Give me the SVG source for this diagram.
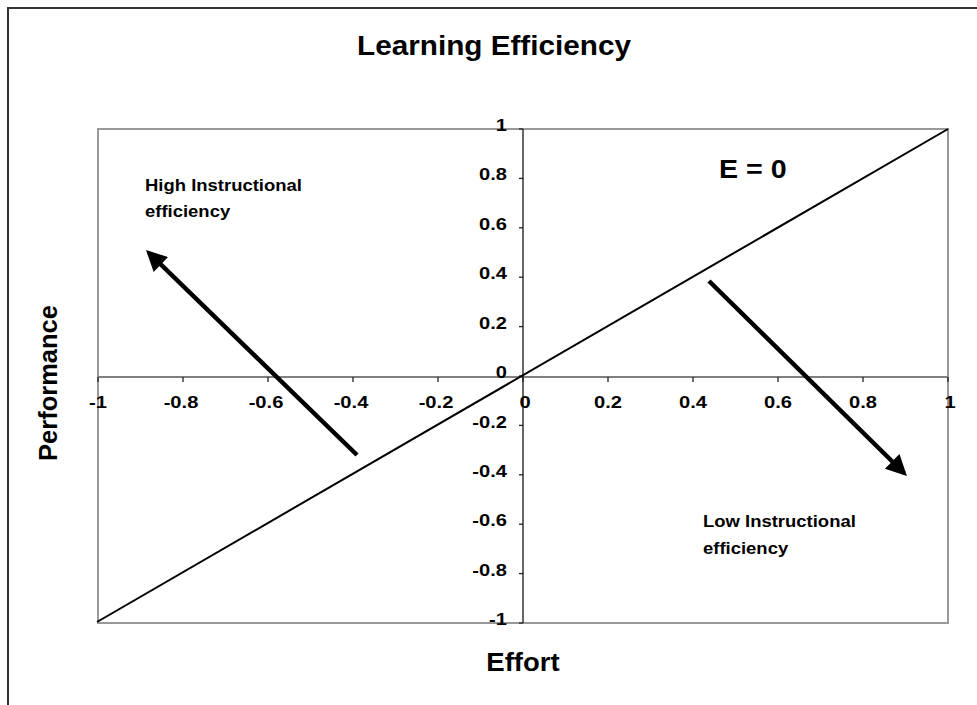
<svg xmlns="http://www.w3.org/2000/svg" width="977" height="705" viewBox="0 0 977 705">
<style>
text{font-family:"Liberation Sans",Arial,sans-serif;font-weight:bold;fill:#000}
.tk{font-size:16.5px}
.yl{text-anchor:end}
.xl{text-anchor:middle}
.reg{font-size:16.5px}
.tick{stroke:#222;stroke-width:1.3}
.arrow{stroke:#000;stroke-width:4.5;fill:none}
</style>
<defs>
<marker id="ah" viewBox="0 0 10 10" refX="8" refY="5" markerWidth="5.2" markerHeight="4.6" orient="auto" markerUnits="strokeWidth">
<path d="M0,0 L10,5 L0,10 Z" fill="#000"/>
</marker>
</defs>
<rect width="977" height="705" fill="#fff"/>
<g id="frame">
<path d="M8,705 V8 H977" fill="none" stroke="#333" stroke-width="2"/>
</g>
<g id="plot">
<rect x="98" y="129" width="850" height="494" fill="#fff" stroke="#999" stroke-width="2"/>
<line x1="98" y1="377" x2="948" y2="377" stroke="#808080" stroke-width="2"/>
<line x1="523" y1="129" x2="523" y2="623" stroke="#333" stroke-width="1.5"/>
<g id="yticks">
<line class="tick" x1="519" y1="129" x2="523" y2="129"/>
<line class="tick" x1="519" y1="178.4" x2="523" y2="178.4"/>
<line class="tick" x1="519" y1="227.8" x2="523" y2="227.8"/>
<line class="tick" x1="519" y1="277.2" x2="523" y2="277.2"/>
<line class="tick" x1="519" y1="326.6" x2="523" y2="326.6"/>
<line class="tick" x1="519" y1="376" x2="523" y2="376"/>
<line class="tick" x1="519" y1="425.4" x2="523" y2="425.4"/>
<line class="tick" x1="519" y1="474.8" x2="523" y2="474.8"/>
<line class="tick" x1="519" y1="524.2" x2="523" y2="524.2"/>
<line class="tick" x1="519" y1="573.6" x2="523" y2="573.6"/>
<line class="tick" x1="519" y1="623" x2="523" y2="623"/>
</g>
<g id="xticks">
<line class="tick" x1="98" y1="377" x2="98" y2="382"/>
<line class="tick" x1="183" y1="377" x2="183" y2="382"/>
<line class="tick" x1="268" y1="377" x2="268" y2="382"/>
<line class="tick" x1="353" y1="377" x2="353" y2="382"/>
<line class="tick" x1="438" y1="377" x2="438" y2="382"/>
<line class="tick" x1="523" y1="377" x2="523" y2="382"/>
<line class="tick" x1="608" y1="377" x2="608" y2="382"/>
<line class="tick" x1="693" y1="377" x2="693" y2="382"/>
<line class="tick" x1="778" y1="377" x2="778" y2="382"/>
<line class="tick" x1="863" y1="377" x2="863" y2="382"/>
<line class="tick" x1="948" y1="377" x2="948" y2="382"/>
</g>
<g id="ylabels">
<text class="yl tk" transform="translate(507,131) scale(1.22,1)">1</text>
<text class="yl tk" transform="translate(507,180) scale(1.22,1)">0.8</text>
<text class="yl tk" transform="translate(507,230) scale(1.22,1)">0.6</text>
<text class="yl tk" transform="translate(507,279) scale(1.22,1)">0.4</text>
<text class="yl tk" transform="translate(507,329) scale(1.22,1)">0.2</text>
<text class="yl tk" transform="translate(507,378) scale(1.22,1)">0</text>
<text class="yl tk" transform="translate(507,428) scale(1.22,1)">-0.2</text>
<text class="yl tk" transform="translate(507,477) scale(1.22,1)">-0.4</text>
<text class="yl tk" transform="translate(507,526) scale(1.22,1)">-0.6</text>
<text class="yl tk" transform="translate(507,576) scale(1.22,1)">-0.8</text>
<text class="yl tk" transform="translate(507,625) scale(1.22,1)">-1</text>
</g>
<g id="xlabels">
<text class="xl tk" transform="translate(98,408) scale(1.22,1)">-1</text>
<text class="xl tk" transform="translate(181,408) scale(1.22,1)">-0.8</text>
<text class="xl tk" transform="translate(266,408) scale(1.22,1)">-0.6</text>
<text class="xl tk" transform="translate(351,408) scale(1.22,1)">-0.4</text>
<text class="xl tk" transform="translate(436,408) scale(1.22,1)">-0.2</text>
<text class="xl tk" transform="translate(525,408) scale(1.22,1)">0</text>
<text class="xl tk" transform="translate(608,408) scale(1.22,1)">0.2</text>
<text class="xl tk" transform="translate(693,408) scale(1.22,1)">0.4</text>
<text class="xl tk" transform="translate(778,408) scale(1.22,1)">0.6</text>
<text class="xl tk" transform="translate(863,408) scale(1.22,1)">0.8</text>
<text class="xl tk" transform="translate(950,408) scale(1.22,1)">1</text>
</g>
</g>
<g id="connectors">
<line id="e0-line" x1="97" y1="622" x2="948" y2="129" stroke="#000" stroke-width="2"/>
<line id="arrow-high" class="arrow" x1="357" y1="455" x2="149" y2="253" marker-end="url(#ah)"/>
<line id="arrow-low" class="arrow" x1="709" y1="281" x2="904" y2="473" marker-end="url(#ah)"/>
</g>
<g id="title"><text transform="translate(494,55) scale(1.1,1)" text-anchor="middle" style="font-size:27px">Learning Efficiency</text></g>
<g id="ylabel-performance"><text transform="translate(57,383) rotate(-90)" text-anchor="middle" style="font-size:25.5px">Performance</text></g>
<g id="xlabel-effort"><text transform="translate(523,671) scale(1.1,1)" text-anchor="middle" style="font-size:25px">Effort</text></g>
<g id="e0-label"><text transform="translate(719,178) scale(1.1,1)" style="font-size:26px">E = 0</text></g>
<g id="high-label">
<text class="reg" transform="translate(145,191) scale(1.12,1)">High Instructional</text>
<text class="reg" transform="translate(145,217) scale(1.12,1)">efficiency</text>
</g>
<g id="low-label">
<text class="reg" transform="translate(703,527) scale(1.12,1)">Low Instructional</text>
<text class="reg" transform="translate(703,554) scale(1.12,1)">efficiency</text>
</g>
</svg>
